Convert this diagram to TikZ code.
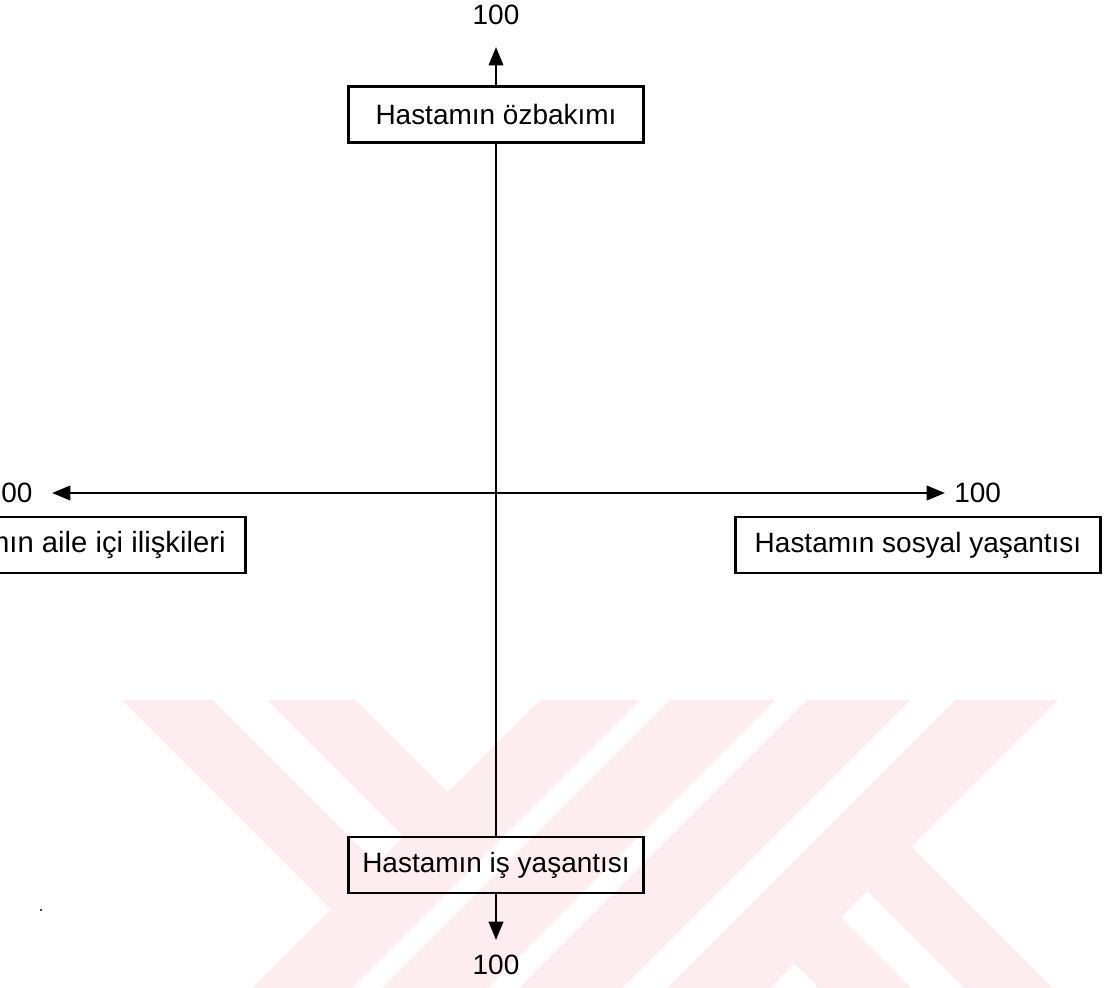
\documentclass[tikz,border=0pt]{standalone}
\usepackage{fontspec}
\setmainfont{Liberation Sans}
\usepackage{xcolor}
\definecolor{wmpink}{RGB}{253,236,240}
\usetikzlibrary{positioning,arrows.meta}
\tikzset{
  kutu/.style ={rectangle, draw=black, line width=2pt, align=center, inner xsep=0pt,
                minimum height=14mm, font=\fontsize{19.9}{23}\selectfont},
  num/.style  ={inner sep=0pt, font=\fontsize{19.9}{23}\selectfont},
  eksen/.style={line width=2pt},
  ok/.style   ={eksen, -{Triangle[length=4.6mm, width=3.6mm]}},
}

\begin{document}
\begin{tikzpicture}[x=0.25mm, y=-0.25mm]
  \useasboundingbox (0,0) rectangle (1108,988);
  \clip (0,0) rectangle (1108,988);
  % watermark stripes
  \fill[wmpink] (122,700) -- (213,700) -- (386.5,873.5) -- (341,919) -- cycle
                (267,700) -- (355,700) -- (457.5,802.5) -- (413.5,846.5) -- cycle
                (540,700) -- (640,700) -- (352,988) -- (252,988) -- cycle
                (670,700) -- (775,700) -- (487,988) -- (382,988) -- cycle
                (807,700) -- (910,700) -- (622,988) -- (519,988) -- cycle
                (955,700) -- (1058,700) -- (770,988) -- (667,988) -- cycle
                (902.5,837.5) -- (1053,988) -- (964,988) -- (858,882) -- cycle
                (831.5,908.5) -- (911,988) -- (819,988) -- (785.5,954.5) -- cycle;
  \fill (41,910) circle (0.3mm);

  \coordinate (o) at (496,493);
  \node[kutu, minimum width=73.75mm] (ozb) at (496,114.5) {Hastamın özbakımı};
  \node[kutu, minimum width=73.75mm] (is) at (496,865) {Hastamın iş yaşantısı};
  \node[kutu, minimum width=91.25mm] (sosyal) at (918,545) {Hastamın sosyal yaşantısı};
  \node[kutu, inner xsep=5mm, anchor=east, font=\fontsize{20.8}{24}\selectfont] (aile) at (247,545) {Hastamın aile içi ilişkileri};

  \coordinate (ust) at (496,47);
  \coordinate (alt) at (496,940);
  \coordinate (sag) at (945,493);
  \coordinate (sol) at (52,493);
  \node[num, above=5.5mm of ust] (ustsayi) {100};
  \node[num, below=3.75mm of alt] (altsayi) {100};
  \node[num, right=2.25mm of sag] (sagsayi) {100};
  \node[num, left=4.8mm of sol] (solsayi) {100};

  \draw[eksen] (ozb.south) -- (is.north);
  \draw[ok] (ozb.north) -- (ust);
  \draw[ok] (is.south) -- (alt);
  \draw[ok] (o) -- (sag);
  \draw[ok] (o) -- (sol);
\end{tikzpicture}
\end{document}
